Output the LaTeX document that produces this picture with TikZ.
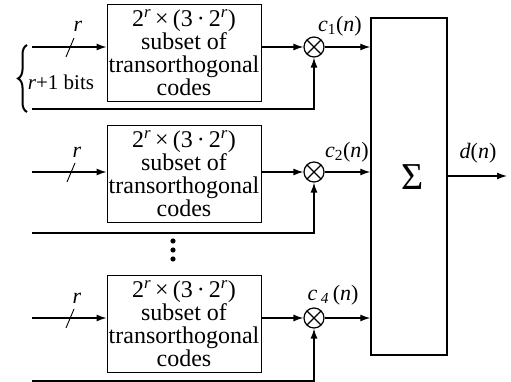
\documentclass[tikz,border=0pt]{standalone}
\usepackage{fontspec}
\setmainfont{Liberation Serif}
\usetikzlibrary{positioning,arrows.meta,decorations.pathreplacing}

\begin{document}
\begin{tikzpicture}[
    x=1pt, y=-1pt,
    every node/.style={align=center},
    codebox/.style={rectangle, draw, line width=0.9pt, minimum width=154pt, minimum height=97pt, inner sep=0pt, font=\fontsize{24}{23}\selectfont},
    mult/.style={circle, draw, line width=1.2pt, minimum size=20pt, inner sep=0pt,
        path picture={\draw[line width=1.2pt] (path picture bounding box.north west) -- (path picture bounding box.south east)
                      (path picture bounding box.north east) -- (path picture bounding box.south west);}},
    sumbox/.style={rectangle, draw, line width=1.4pt, minimum width=76pt, minimum height=337pt},
    lbl/.style={font=\fontsize{22}{22}\selectfont, inner sep=1pt},
    arrow/.style={-{Latex[length=10pt, width=7pt]}, line width=1.3pt},
    wire/.style={line width=1.3pt}
]
\useasboundingbox (0,0) rectangle (511,382);

% Code generators
\node[codebox] (code1) at (184,53) {2\textsuperscript{\textit{r}}\,×\,(3\,·\,2\textsuperscript{\textit{r}})\\subset of\\transorthogonal\\codes};
\node[codebox, below=23pt of code1] (code2) {2\textsuperscript{\textit{r}}\,×\,(3\,·\,2\textsuperscript{\textit{r}})\\subset of\\transorthogonal\\codes};
\node[codebox, below=52pt of code2] (code3) {2\textsuperscript{\textit{r}}\,×\,(3\,·\,2\textsuperscript{\textit{r}})\\subset of\\transorthogonal\\codes};

% Multipliers and summation
\node[mult] (m1) at (314,47) {};
\node[mult] (m2) at (314,172) {};
\node[mult] (m3) at (314,318) {};
\node[sumbox] (sum) at (409,186.5) {};
\node[font=\fontsize{38}{38}\selectfont] (sigma) at (413,177) {Σ};

% Inputs
\coordinate (in1) at (32,47);
\coordinate (in2) at (32,172);
\coordinate (in3) at (32,318);
\coordinate (lo1) at (32,109);
\coordinate (lo2) at (32,233);
\coordinate (lo3) at (32,381);
\coordinate (out) at (507,176);

\draw[arrow] (in1) -- (in1 -| code1.west);
\draw[arrow] (in2) -- (in2 -| code2.west);
\draw[arrow] (in3) -- (in3 -| code3.west);

% Bus width marks
\draw[line width=0.9pt] (66,57) -- (74,38);
\draw[line width=0.9pt] (67,182) -- (75,163);
\draw[line width=0.9pt] (66,328) -- (74,309);
\node[lbl] (r1) at (78,26) {\textit{r}};
\node[lbl] (r2) at (77,152) {\textit{r}};
\node[lbl] (r3) at (77,298) {\textit{r}};

% Brace
\draw[decorate, decoration={brace, amplitude=9pt}, line width=2pt] (27,112) -- (27,45);
\node[lbl, font=\fontsize{21}{21}\selectfont] (bits) at (61,82) {\textit{r}+1 bits};

% Code to multipliers
\draw[arrow] (m1 -| code1.east) -- (m1.west);
\draw[arrow] (m2 -| code2.east) -- (m2.west);
\draw[arrow] (m3 -| code3.east) -- (m3.west);
\draw[arrow] (lo1) -| (m1.south);
\draw[arrow] (lo2) -| (m2.south);
\draw[arrow] (lo3) -| (m3.south);

% Multipliers to sum
\draw[arrow] (m1.east) -- (m1 -| sum.west);
\draw[arrow] (m2.east) -- (m2 -| sum.west);
\draw[arrow] (m3.east) -- (m3 -| sum.west);
\node[lbl] (c1) at (340,26) {\textit{c}\textsubscript{1}(\textit{n})};
\node[lbl] (c2) at (347,152) {\textit{c}\textsubscript{2}(\textit{n})};
\node[lbl] (c4) at (333,295) {\textit{c}\,\textsubscript{\textit{4}}\,(\textit{n})};

% Output
\draw[arrow] (out -| sum.east) -- (out);
\node[lbl] (dn) at (478,153) {\textit{d}(\textit{n})};

% Dots
\foreach \y in {241,250,259} \fill (173,\y) circle (2.6pt);

\end{tikzpicture}
\end{document}
